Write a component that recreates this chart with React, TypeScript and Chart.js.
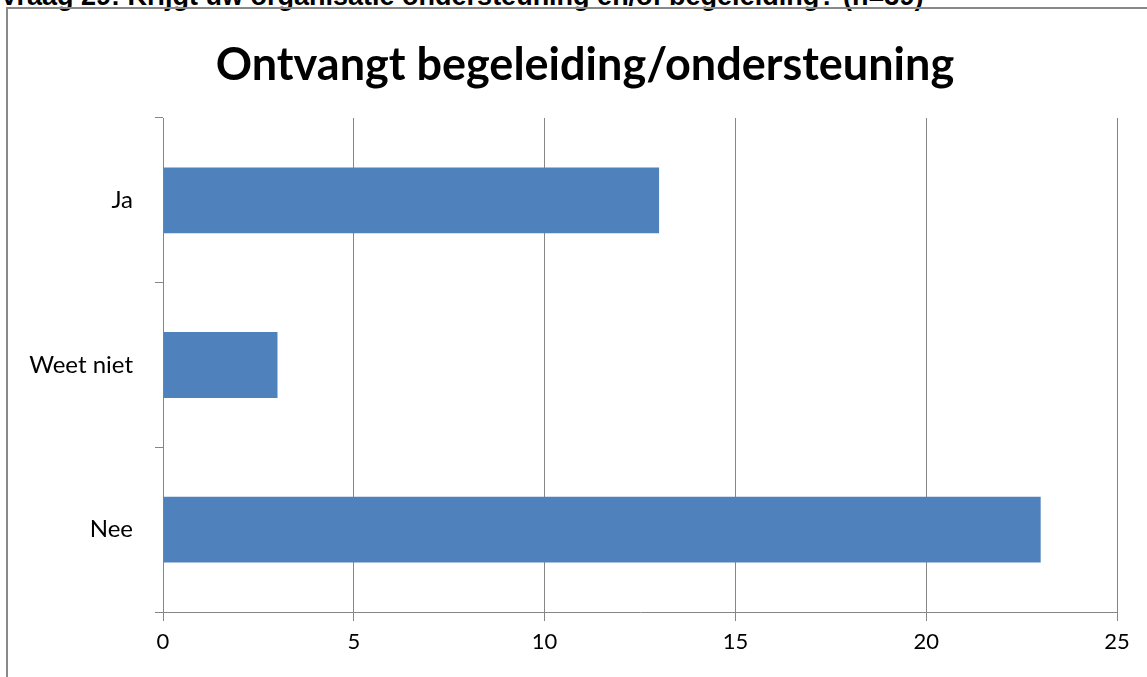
import React, { useEffect, useRef } from "react";
import { Chart, registerables } from "chart.js";

Chart.register(...registerables);

const categories: string[] = ["Ja", "Weet niet", "Nee"];
const values: number[] = [13, 3, 23];
const xTicks: number[] = [0, 5, 10, 15, 20, 25];
const chartTitle = "Ontvangt begeleiding/ondersteuning";
const headerText = "Vraag 29: Krijgt uw organisatie ondersteuning en/of begeleiding? (n=39)";

export default function App() {
  const ref = useRef<HTMLCanvasElement | null>(null);

  useEffect(() => {
    if (!ref.current) return;
    const gridColor = "#868686";
    const chart = new Chart(ref.current, {
      type: "bar",
      data: {
        labels: categories,
        datasets: [
          {
            data: values,
            backgroundColor: "#4F81BD",
            borderWidth: 0,
            categoryPercentage: 1,
            barPercentage: 0.4,
          },
        ],
      },
      options: {
        indexAxis: "y",
        animation: false,
        responsive: false,
        maintainAspectRatio: false,
        layout: { padding: { left: 0, right: 30, top: 118, bottom: 0 } },
        plugins: {
          legend: { display: false },
          tooltip: { enabled: false },
          title: { display: false },
        },
        scales: {
          x: {
            type: "linear",
            min: 0,
            max: 25,
            afterBuildTicks: (scale: any) => {
              scale.ticks = xTicks.map((v) => ({ value: v }));
            },
            afterFit: (scale: any) => {
              scale.height = 65;
            },
            grid: {
              color: gridColor,
              lineWidth: 1,
              drawTicks: true,
              tickLength: 9,
              tickColor: gridColor,
            },
            border: { display: true, color: gridColor, width: 1 },
            ticks: {
              color: "#000000",
              font: { family: "Lato", size: 22 },
              padding: 8,
            },
          },
          y: {
            type: "category",
            afterFit: (scale: any) => {
              scale.width = 163;
            },
            grid: {
              display: true,
              offset: true,
              drawOnChartArea: false,
              drawTicks: true,
              tickLength: 8,
              color: gridColor,
              tickColor: gridColor,
            },
            border: { display: true, color: gridColor, width: 1 },
            ticks: {
              color: "#000000",
              font: { family: "Lato", size: 24 },
              padding: 22,
            },
          },
        },
      },
    });
    return () => chart.destroy();
  }, []);

  return (
    <div
      style={{
        position: "absolute",
        left: 0,
        top: 0,
        width: 1147,
        height: 677,
        overflow: "hidden",
        background: "#ffffff",
      }}
    >
      <div
        style={{
          position: "absolute",
          left: 0,
          top: -19,
          fontFamily: "'Liberation Sans', Arial, sans-serif",
          fontWeight: "bold",
          fontSize: 27,
          whiteSpace: "nowrap",
          color: "#000",
          lineHeight: "31px",
        }}
      >
        {headerText}
      </div>
      <div
        style={{
          position: "absolute",
          left: 6,
          top: 7,
          width: 1200,
          height: 720,
          border: "2px solid #898989",
          boxSizing: "border-box",
        }}
      />
      <canvas
        ref={ref}
        width={1147}
        height={677}
        style={{ position: "absolute", left: 0, top: 0, width: 1147, height: 677 }}
      />
      <div
        style={{
          position: "absolute",
          left: 285,
          width: 600,
          top: 36,
          textAlign: "center",
          fontFamily: "Lato, sans-serif",
          fontWeight: "bold",
          fontSize: 45,
          lineHeight: "54px",
          whiteSpace: "nowrap",
          color: "#000",
          display: "flex",
          justifyContent: "center",
        }}
      >
        <span>{chartTitle}</span>
      </div>
    </div>
  );
}
